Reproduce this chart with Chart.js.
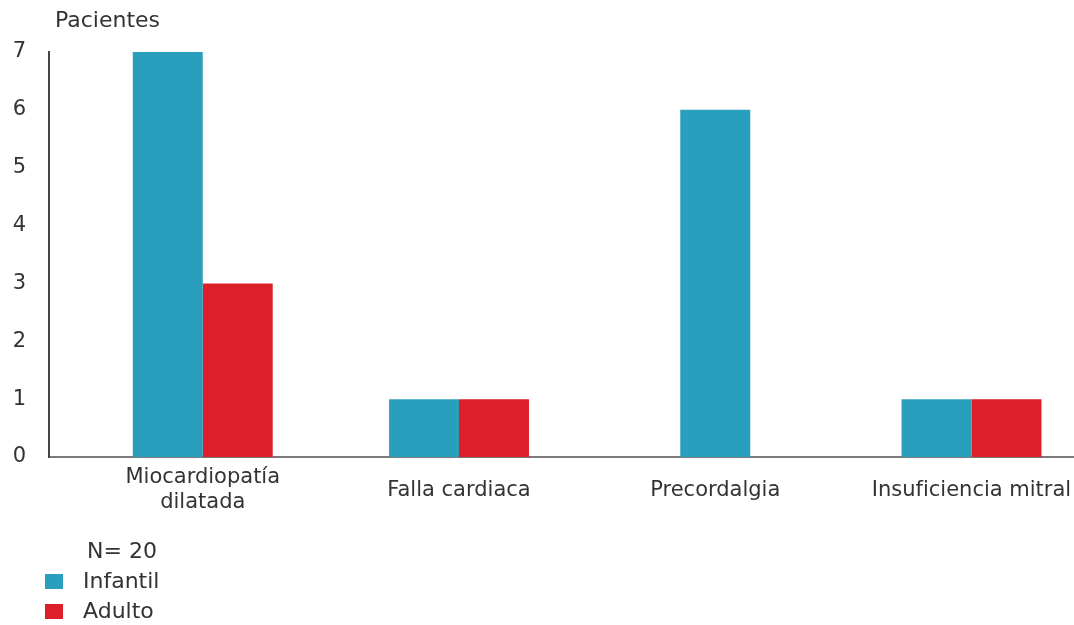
<!DOCTYPE html>
<html lang="es">
<head>
<meta charset="utf-8">
<title>Pacientes por diagnóstico</title>
<script src="https://cdn.jsdelivr.net/npm/chart.js@4"></script>
<style>
    body { margin: 0; background: #fff; }
    #wrap { position: relative; width: 1074px; height: 625px; }
    #leyenda {
        position: absolute; left: 0; top: 536px;
        font-family: "DejaVu Sans", sans-serif; font-size: 22px; color: #333;
    }
    #leyenda .titulo { margin-left: 87px; height: 30px; line-height: 30px; }
    #leyenda .item { height: 30px; line-height: 30px; display: flex; align-items: center; }
    #leyenda .caja { width: 18px; height: 15px; margin-left: 45px; margin-right: 20px; }
</style>
</head>
<body>
<div id="wrap">
    <canvas id="chart"></canvas>
    <div id="leyenda"></div>
</div>
<script>
const categorias = [['Miocardiopatía', 'dilatada'], 'Falla cardiaca', 'Precordalgia', 'Insuficiencia mitral'];
const infantil = [7, 1, 6, 1];
const adulto = [3, 1, null, 1];
const series = ['Infantil', 'Adulto'];
const colores = ['#2a9fbd', '#dd1f2a'];
const tituloEje = 'Pacientes';
const totalPacientes = 'N= 20';

const fuente = { family: '"DejaVu Sans", sans-serif', size: 21 };

// puntos {x: indice de categoria, y: valor}
const puntos = valores => valores.map((v, i) => ({ x: i, y: v }));

const tituloPlugin = {
    id: 'tituloEje',
    afterDraw(chart) {
        const c = chart.ctx;
        c.save();
        c.font = `22px ${fuente.family}`;
        c.fillStyle = '#333';
        c.textBaseline = 'middle';
        c.fillText(tituloEje, chart.chartArea.left + 6, 21);
        c.restore();
    }
};

let myChart;
const ctx = document.getElementById('chart').getContext('2d');
myChart = new Chart(ctx, {
    type: 'bar',
    data: {
        datasets: [{
            label: series[0],
            data: puntos(infantil),
            backgroundColor: colores[0]
        }, {
            label: series[1],
            data: puntos(adulto),
            backgroundColor: colores[1]
        }]
    },
    options: {
        responsive: true,
        maintainAspectRatio: false,
        animation: false,
        skipNull: true,
        categoryPercentage: 0.546,
        barPercentage: 1,
        maxBarThickness: 70,
        layout: { padding: { top: 52, right: 0, bottom: 84, left: 0 } },
        plugins: {
            legend: { display: false },
            tooltip: { enabled: false }
        },
        scales: {
            x: {
                type: 'linear',
                min: -0.6,
                max: 3.4,
                offset: false,
                grid: { display: false },
                border: { display: true, color: '#7a7a7a', width: 2 },
                ticks: {
                    color: '#333',
                    font: { ...fuente, lineHeight: 1.19 },
                    padding: 13,
                    maxRotation: 0,
                    autoSkip: false,
                    crossAlign: 'center',
                    callback: value => categorias[Math.round(value)]
                },
                afterBuildTicks(scale) {
                    scale.ticks = categorias.map((c, i) => ({ value: i }));
                },
                afterFit(scale) {
                    scale.paddingLeft = 0;
                    scale.paddingRight = 0;
                }
            },
            y: {
                min: 0,
                max: 7,
                grid: { display: false },
                border: { display: true, color: '#444', width: 2 },
                ticks: {
                    stepSize: 1,
                    color: '#333',
                    font: fuente,
                    padding: 15
                },
                afterFit(scale) {
                    scale.width = 49;
                }
            }
        }
    },
    plugins: [tituloPlugin]
});

const leyenda = document.getElementById('leyenda');
const titulo = document.createElement('div');
titulo.className = 'titulo';
titulo.textContent = totalPacientes;
leyenda.appendChild(titulo);
myChart.data.datasets.forEach(ds => {
    const item = document.createElement('div');
    item.className = 'item';
    const caja = document.createElement('span');
    caja.className = 'caja';
    caja.style.background = ds.backgroundColor;
    const texto = document.createElement('span');
    texto.textContent = ds.label;
    item.appendChild(caja);
    item.appendChild(texto);
    leyenda.appendChild(item);
});
</script>
</body>
</html>
